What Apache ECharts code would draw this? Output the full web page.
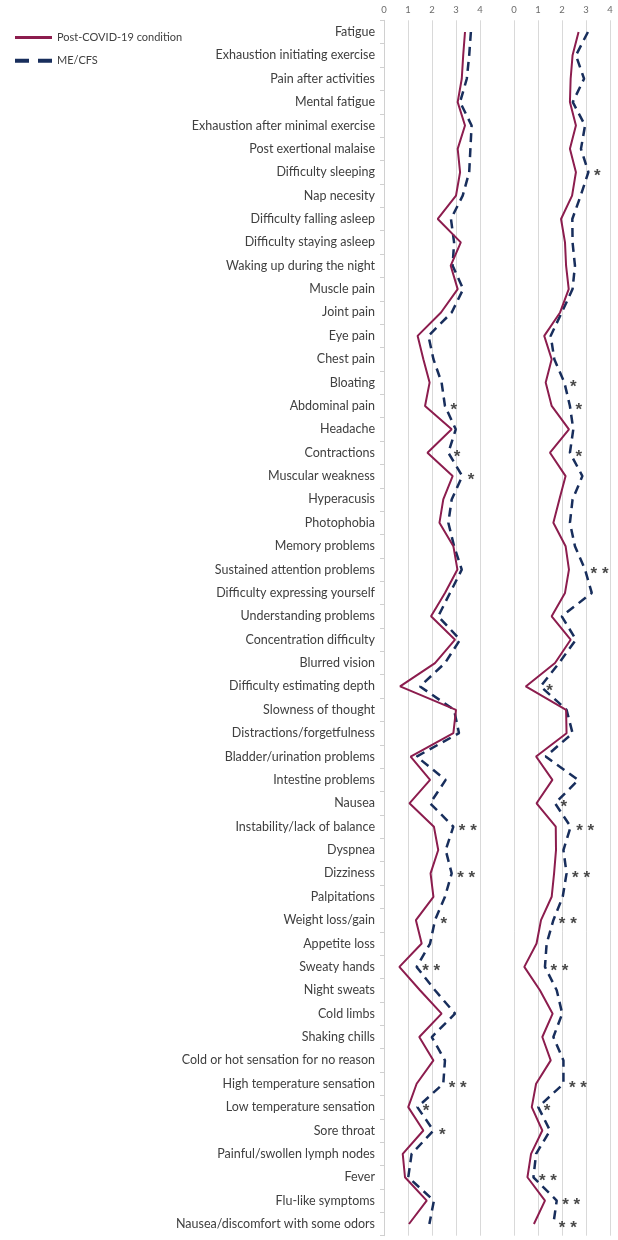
<!DOCTYPE html>
<html>
<head>
<meta charset="utf-8">
<script src="https://cdn.jsdelivr.net/npm/echarts@6/dist/echarts.min.js"></script>
<style>
html,body{margin:0;padding:0;background:#fff;}
#chart{width:618px;height:1240px;}
</style>
</head>
<body>
<div id="chart"></div>
<script>
const categories = [
  "Fatigue","Exhaustion initiating exercise","Pain after activities","Mental fatigue",
  "Exhaustion after minimal exercise","Post exertional malaise","Difficulty sleeping","Nap necesity",
  "Difficulty falling asleep","Difficulty staying asleep","Waking up during the night","Muscle pain",
  "Joint pain","Eye pain","Chest pain","Bloating","Abdominal pain","Headache","Contractions",
  "Muscular weakness","Hyperacusis","Photophobia","Memory problems","Sustained attention problems",
  "Difficulty expressing yourself","Understanding problems","Concentration difficulty","Blurred vision",
  "Difficulty estimating depth","Slowness of thought","Distractions/forgetfulness",
  "Bladder/urination problems","Intestine problems","Nausea","Instability/lack of balance","Dyspnea",
  "Dizziness","Palpitations","Weight loss/gain","Appetite loss","Sweaty hands","Night sweats",
  "Cold limbs","Shaking chills","Cold or hot sensation for no reason","High temperature sensation",
  "Low temperature sensation","Sore throat","Painful/swollen lymph nodes","Fever","Flu-like symptoms",
  "Nausea/discomfort with some odors"
];
const xTicks = [0, 1, 2, 3, 4];
const seriesNames = ["Post-COVID-19 condition", "ME/CFS"];

// Left panel
const leftPCC = [3.375,3.3,3.24,3.07,3.375,3.07,3.17,3.0,2.24,3.2,2.78,3.07,2.375,1.40,1.64,1.9,1.71,2.82,1.81,2.86,2.47,2.31,2.89,3.06,2.54,1.96,2.96,2.125,0.67,3.0,2.89,1.11,1.92,1.06,2.08,2.26,1.94,2.06,1.33,1.57,0.64,1.5,2.4,1.47,2.06,1.36,1.01,1.64,0.78,0.875,1.78,1.04];
const leftME  = [3.62,3.55,3.45,3.17,3.65,3.6,3.55,3.28,2.79,2.92,2.86,3.3,2.82,1.85,2.06,2.4,2.54,2.99,2.68,3.26,2.82,2.68,2.92,3.24,2.75,2.26,3.17,2.54,1.5,2.92,3.125,1.36,2.57,1.92,2.89,2.57,2.82,2.54,2.125,1.92,1.36,2.125,2.96,1.99,2.54,2.47,1.39,2.06,1.15,1.01,2.08,1.89];
// Right panel
const rightPCC = [2.69,2.44,2.36,2.33,2.58,2.33,2.58,2.42,1.96,2.125,2.17,2.28,1.92,1.26,1.57,1.32,1.57,2.29,1.5,2.15,1.89,1.64,2.15,2.29,2.125,1.57,2.36,1.71,0.49,2.17,2.19,0.92,1.6,0.94,1.74,1.75,1.67,1.57,1.125,0.94,0.43,1.08,1.61,1.18,1.53,0.92,0.74,1.18,0.71,0.56,1.29,0.83];
const rightME  = [3.08,2.58,2.92,2.45,2.96,2.79,3.1,2.78,2.43,2.44,2.54,2.44,1.99,1.53,1.68,2.1,2.33,2.47,2.33,2.85,2.44,2.33,2.54,2.96,3.24,1.99,2.58,1.875,1.11,2.19,2.44,1.32,2.68,1.71,2.36,2.06,2.19,2.03,1.64,1.36,1.29,1.78,2.01,1.64,2.06,2.06,1.01,1.5,0.92,0.81,1.78,1.64];

// Significance marks (by category)
const leftStars = {
  "Abdominal pain":"*","Contractions":"*","Muscular weakness":"*","Instability/lack of balance":"**",
  "Dizziness":"**","Weight loss/gain":"*","Sweaty hands":"**","High temperature sensation":"**",
  "Low temperature sensation":"*","Sore throat":"*"
};
const rightStars = {
  "Difficulty sleeping":"*","Bloating":"*","Abdominal pain":"*","Contractions":"*",
  "Sustained attention problems":"**","Difficulty estimating depth":"*","Nausea":"*",
  "Instability/lack of balance":"**","Dizziness":"**","Weight loss/gain":"**","Sweaty hands":"**",
  "High temperature sensation":"**","Low temperature sensation":"*","Fever":"**",
  "Flu-like symptoms":"**","Nausea/discomfort with some odors":"**"
};

const RED = '#8C1D4E';
const NAVY = '#182E5C';
const GRID_TOP = 20.3, GRID_H = 1215.4;

function pairs(vals){ return vals.map((v,i)=>[v, categories[i]]); }
function starData(vals, stars){
  const out = [];
  categories.forEach((c,i)=>{ if (stars[c]) out.push([vals[i], c, stars[c].split('').join(' ')]); });
  return out;
}

const xAxisBase = (gi) => ({
  type:'value', gridIndex:gi, min:0, max:4, interval:1, position:'top',
  axisLine:{show:false}, axisTick:{show:false},
  axisLabel:{color:'#6b6b6b', fontSize:9.5, fontFamily:'Lato', margin:5,
    formatter:(v)=> String(xTicks[xTicks.indexOf(v)])},
  splitLine:{show:true, lineStyle:{color:'#d9d9d9', width:1}}
});

const starLabel = {show:true, position:'right', distance:5, offset:[0,4.5], formatter:(p)=>p.data[2],
  color:'#1a1a1a', fontSize:17, fontWeight:'bold', fontFamily:'Liberation Sans'};

const chart = echarts.init(document.getElementById('chart'), null, {renderer:'canvas'});
chart.setOption({
  animation:false,
  backgroundColor:'#fff',
  legend:{
    orient:'vertical', left:8, top:27, itemWidth:37, itemHeight:14, itemGap:12,
    itemStyle:{color:'transparent', borderWidth:0},
    data:[
      {name:seriesNames[0], lineStyle:{width:3, color:RED, type:'solid'}},
      {name:seriesNames[1], lineStyle:{width:4, color:NAVY, type:[14,9]}}
    ],
    textStyle:{color:'#404040', fontSize:11, fontFamily:'Lato'}
  },
  grid:[
    {left:384, width:96, top:GRID_TOP, height:GRID_H, containLabel:false},
    {left:514, width:96, top:GRID_TOP, height:GRID_H, containLabel:false}
  ],
  xAxis:[xAxisBase(0), xAxisBase(1)],
  yAxis:[
    {type:'category', gridIndex:0, data:categories, inverse:true, boundaryGap:true,
     axisLine:{show:true, lineStyle:{color:'#d0d0d0'}},
     axisTick:{show:true, length:4, lineStyle:{color:'#d0d0d0'}},
     axisLabel:{color:'#404040', fontSize:12.5, fontFamily:'Lato', margin:9, interval:0}},
    {type:'category', gridIndex:1, data:categories, inverse:true, boundaryGap:true,
     axisLine:{show:false}, axisTick:{show:false}, axisLabel:{show:false}}
  ],
  series:[
    {name:seriesNames[0], type:'line', xAxisIndex:0, yAxisIndex:0, data:pairs(leftPCC), symbol:'none',
     lineStyle:{color:RED, width:2}, itemStyle:{color:RED}, z:3},
    {name:seriesNames[1], type:'line', xAxisIndex:0, yAxisIndex:0, data:pairs(leftME), symbol:'none',
     lineStyle:{color:NAVY, width:2.5, type:[9,6]}, itemStyle:{color:NAVY}, z:2},
    {name:seriesNames[0], type:'line', xAxisIndex:1, yAxisIndex:1, data:pairs(rightPCC), symbol:'none',
     lineStyle:{color:RED, width:2}, itemStyle:{color:RED}, z:3},
    {name:seriesNames[1], type:'line', xAxisIndex:1, yAxisIndex:1, data:pairs(rightME), symbol:'none',
     lineStyle:{color:NAVY, width:2.5, type:[9,6]}, itemStyle:{color:NAVY}, z:2},
    {type:'scatter', xAxisIndex:0, yAxisIndex:0, data:starData(leftME, leftStars), symbolSize:1,
     itemStyle:{color:'rgba(0,0,0,0)'}, silent:true, label:starLabel, z:4},
    {type:'scatter', xAxisIndex:1, yAxisIndex:1, data:starData(rightME, rightStars), symbolSize:1,
     itemStyle:{color:'rgba(0,0,0,0)'}, silent:true, label:starLabel, z:4}
  ]
});
</script>
</body>
</html>
